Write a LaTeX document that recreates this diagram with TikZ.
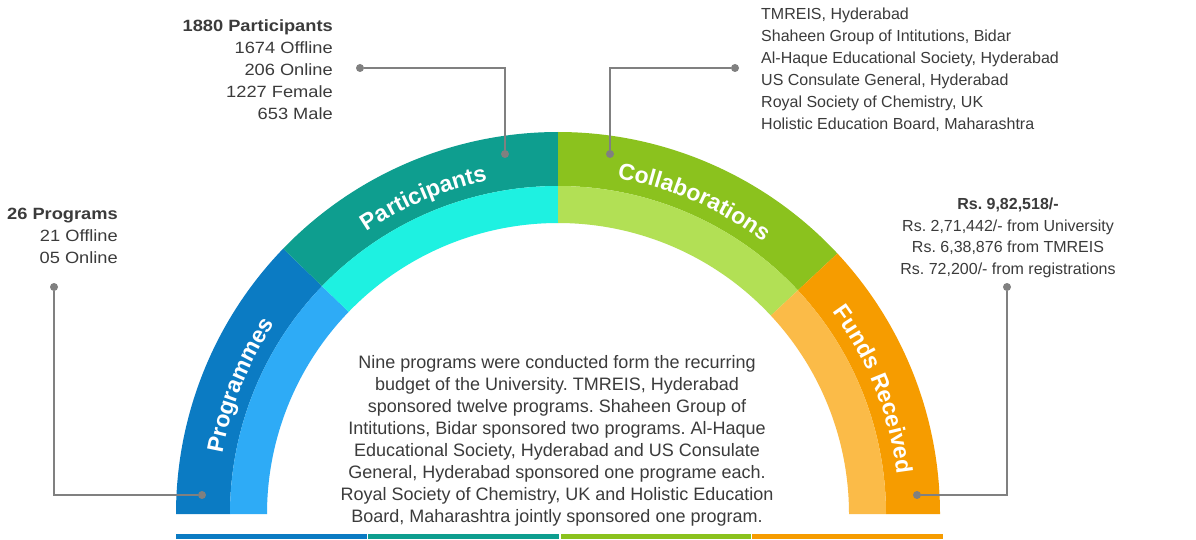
\documentclass[tikz,border=0pt]{standalone}
\usepackage{fontspec}
\setmainfont{Liberation Sans}
\newfontfamily\wideFont[FakeStretch=1.12]{Liberation Sans}
\usepackage{xcolor}
\usepackage{tikz}
\usetikzlibrary{positioning}
\usetikzlibrary{calc}
\usetikzlibrary{decorations.text}

\definecolor{progDark}{HTML}{0B7BC3}
\definecolor{progLight}{HTML}{2EABF6}
\definecolor{partDark}{HTML}{0E9E8F}
\definecolor{partLight}{HTML}{1EF1E1}
\definecolor{collDark}{HTML}{8BC21E}
\definecolor{collLight}{HTML}{B2E055}
\definecolor{fundDark}{HTML}{F69C00}
\definecolor{fundLight}{HTML}{FBBB48}
\definecolor{textGray}{HTML}{3B3B3B}
\definecolor{lineGray}{HTML}{808080}

\newcommand{\arcFont}{\fontsize{23}{26}\selectfont\bfseries}

\tikzset{
	infoText/.style={
		text=textGray,
		font=\fontsize{16}{22}\selectfont,
		inner sep=0pt
	},
	wideText/.style={
		infoText,
		font=\wideFont\fontsize{16.3}{22}\selectfont
	},
	dotMark/.style={
		circle,
		fill=lineGray,
		minimum size=8pt,
		inner sep=0pt
	},
	leader/.style={
		draw=lineGray,
		line width=1.5pt
	},
	arcLabel/.style={
		decorate,
		decoration={
			text along path,
			text align=center,
			text color=white,
			text={|\arcFont|#1}
		}
	}
}

\begin{document}
\frenchspacing
\begin{tikzpicture}[x=1pt, y=1pt]

	\fill[white] (0,0) rectangle (1196,539);
	\useasboundingbox (0,0) rectangle (1196,539);

	\coordinate (archCenter) at (558,25);

	% outer band
	\fill[progDark] ([shift={(180:382pt)}]archCenter) arc[start angle=180, end angle=136, radius=382pt]
		-- ([shift={(136:328pt)}]archCenter) arc[start angle=136, end angle=180, radius=328pt] -- cycle;
	\fill[partDark] ([shift={(136:382pt)}]archCenter) arc[start angle=136, end angle=90, radius=382pt]
		-- ([shift={(90:328pt)}]archCenter) arc[start angle=90, end angle=136, radius=328pt] -- cycle;
	\fill[collDark] ([shift={(90:382pt)}]archCenter) arc[start angle=90, end angle=43, radius=382pt]
		-- ([shift={(43:328pt)}]archCenter) arc[start angle=43, end angle=90, radius=328pt] -- cycle;
	\fill[fundDark] ([shift={(43:382pt)}]archCenter) arc[start angle=43, end angle=0, radius=382pt]
		-- ([shift={(0:328pt)}]archCenter) arc[start angle=0, end angle=43, radius=328pt] -- cycle;

	% inner band
	\fill[progLight] ([shift={(180:328pt)}]archCenter) arc[start angle=180, end angle=136, radius=328pt]
		-- ([shift={(136:291pt)}]archCenter) arc[start angle=136, end angle=180, radius=291pt] -- cycle;
	\fill[partLight] ([shift={(136:328pt)}]archCenter) arc[start angle=136, end angle=90, radius=328pt]
		-- ([shift={(90:291pt)}]archCenter) arc[start angle=90, end angle=136, radius=291pt] -- cycle;
	\fill[collLight] ([shift={(90:328pt)}]archCenter) arc[start angle=90, end angle=43, radius=328pt]
		-- ([shift={(43:291pt)}]archCenter) arc[start angle=43, end angle=90, radius=291pt] -- cycle;
	\fill[fundLight] ([shift={(43:328pt)}]archCenter) arc[start angle=43, end angle=0, radius=328pt]
		-- ([shift={(0:291pt)}]archCenter) arc[start angle=0, end angle=43, radius=291pt] -- cycle;

	\path[arcLabel=Programmes] ([shift={(180:341pt)}]archCenter) arc[start angle=180, end angle=136, radius=341pt];
	\path[arcLabel=Participants] ([shift={(136:341pt)}]archCenter) arc[start angle=136, end angle=90, radius=341pt];
	\path[arcLabel=Collaborations] ([shift={(90:341pt)}]archCenter) arc[start angle=90, end angle=43, radius=341pt];
	\path[arcLabel=Funds Received] ([shift={(43:341pt)}]archCenter) arc[start angle=43, end angle=0, radius=341pt];

	% bottom strip
	\fill[progDark] (176,0) rectangle (367,5);
	\fill[partDark] (368,0) rectangle (559,5);
	\fill[collDark] (561,0) rectangle (751,5);
	\fill[fundDark] (752,0) rectangle (943,5);

	\node[
		wideText,
		align=right,
		anchor=north east
	] (progInfo) at (118,331) {\textbf{26 Programs}\\21 Offline\\05 Online};

	\node[
		wideText,
		align=right,
		anchor=north east
	] (partInfo) at (333,520) {\textbf{1880 Participants}\\1674 Offline\\206 Online\\1227 Female\\653 Male};

	\node[
		infoText,
		align=left,
		anchor=north west
	] (collInfo) at (761,531) {TMREIS, Hyderabad\\Shaheen Group of Intitutions, Bidar\\Al-Haque Educational Society, Hyderabad\\US Consulate General, Hyderabad\\Royal Society of Chemistry, UK\\Holistic Education Board, Maharashtra};

	\node[
		infoText,
		font=\fontsize{16}{21.5}\selectfont,
		align=center,
		anchor=north
	] (fundInfo) at (1008,341) {\textbf{Rs. 9,82,518/-}\\Rs. 2,71,442/- from University\\Rs. 6,38,876 from TMREIS\\Rs. 72,200/- from registrations};

	\node[
		infoText,
		font=\fontsize{18}{22}\selectfont,
		align=center,
		anchor=north
	] (summary) at (557,184) {Nine programs were conducted form the recurring\\budget of the University. TMREIS, Hyderabad\\sponsored twelve programs. Shaheen Group of\\Intitutions, Bidar sponsored two programs. Al-Haque\\Educational Society, Hyderabad and US Consulate\\General, Hyderabad sponsored one programe each.\\Royal Society of Chemistry, UK and Holistic Education\\Board, Maharashtra jointly sponsored one program.};

	\node[dotMark] (progDotText) at (54,252) {};
	\node[dotMark] (progDotArc) at (202,44) {};
	\node[dotMark] (partDotText) at (360,471) {};
	\node[dotMark] (partDotArc) at (505,385) {};
	\node[dotMark] (collDotText) at (735,471) {};
	\node[dotMark] (collDotArc) at (610,385) {};
	\node[dotMark] (fundDotText) at (1007,252) {};
	\node[dotMark] (fundDotArc) at (917,44) {};

	\draw[leader] (progDotText) |- (progDotArc);
	\draw[leader] (partDotText) -| (partDotArc);
	\draw[leader] (collDotText) -| (collDotArc);
	\draw[leader] (fundDotText) |- (fundDotArc);

\end{tikzpicture}
\end{document}
